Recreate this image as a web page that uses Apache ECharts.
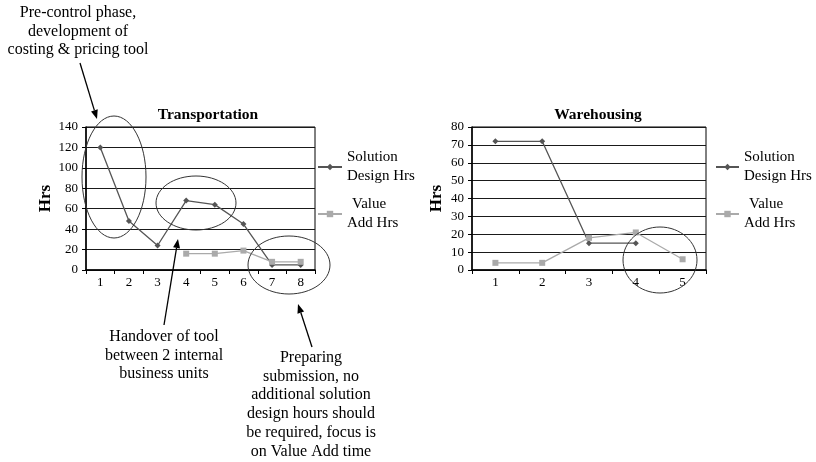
<!DOCTYPE html>
<html><head><meta charset="utf-8">
<script src="https://cdn.jsdelivr.net/npm/echarts@6/dist/echarts.min.js"></script>
<style>html,body{margin:0;padding:0;background:#fff}#c{width:816px;height:462px}</style>
</head><body><div id="c"></div>
<script>
const transCategories = ['1','2','3','4','5','6','7','8'];
const transSolution = [120, 48, 24, 68, 64, 45, 5, 5];
const transValueAdd = [null, null, null, 16, 16, 19, 8, 8];
const transYTicks = {min: 0, max: 140, interval: 20};

const wareCategories = ['1','2','3','4','5'];
const wareSolution = [72, 72, 15, 15, null];
const wareValueAdd = [4, 4, 18, 21, 6];
const wareYTicks = {min: 0, max: 80, interval: 10};

const FONT = '"Liberation Serif", "Times New Roman", serif';
const chart = echarts.init(document.getElementById('c'));

function xAxis(idx, data) {
  return {
    type: 'category', gridIndex: idx, data: data, boundaryGap: true,
    axisLine: {show: true, lineStyle: {color: '#000', width: 1.5}},
    axisTick: {show: true, length: 4, lineStyle: {color: '#000'}},
    axisLabel: {color: '#000', fontFamily: FONT, fontSize: 13, margin: 6},
    splitLine: {show: false}
  };
}
function yAxis(idx, t, gap) {
  return {
    type: 'value', gridIndex: idx, min: t.min, max: t.max, interval: t.interval,
    name: 'Hrs', nameLocation: 'middle', nameRotate: 90, nameGap: gap,
    nameTextStyle: {fontFamily: FONT, fontSize: 17, fontWeight: 'bold', color: '#000'},
    axisLine: {show: true, lineStyle: {color: '#000', width: 1.5}},
    axisTick: {show: true, length: 4, lineStyle: {color: '#000'}},
    axisLabel: {color: '#000', fontFamily: FONT, fontSize: 13, margin: 8},
    splitLine: {show: true, lineStyle: {color: '#1a1a1a', width: 1}}
  };
}
function sd(idx, data) {
  return {name: 'Solution Design Hrs', type: 'line', xAxisIndex: idx, yAxisIndex: idx, data: data,
    symbol: 'diamond', symbolSize: 6, itemStyle: {color: '#555'}, lineStyle: {color: '#555', width: 1.3},
    connectNulls: false, animation: false};
}
function va(idx, data) {
  return {name: 'Value Add Hrs', type: 'line', xAxisIndex: idx, yAxisIndex: idx, data: data,
    symbol: 'rect', symbolSize: 6, itemStyle: {color: '#aaa'}, lineStyle: {color: '#aaa', width: 1.3},
    connectNulls: false, animation: false};
}
function legend(left, w) {
  return {
    orient: 'vertical', left: left, top: 148, padding: 0, itemWidth: w, itemHeight: 8, itemGap: 9,
    data: ['Solution Design Hrs', 'Value Add Hrs'],
    formatter: function (n) {
      return n === 'Solution Design Hrs' ? '{a|Solution}\n{a|Design Hrs}' : '{b|Value}\n{a|Add Hrs}';
    },
    textStyle: {fontFamily: FONT, fontSize: 15, color: '#000', lineHeight: 19,
      rich: {
        a: {fontFamily: FONT, fontSize: 15, color: '#000', lineHeight: 19},
        b: {fontFamily: FONT, fontSize: 15, color: '#000', lineHeight: 19, padding: [0, 0, 0, 5]}
      }},
    selectedMode: false
  };
}

// annotation helpers
function arrow(x1, y1, x2, y2) {
  const ang = Math.atan2(y2 - y1, x2 - x1);
  const L = 9, W = 3.5;
  const bx = x2 - L * Math.cos(ang), by = y2 - L * Math.sin(ang);
  const px = -Math.sin(ang) * W, py = Math.cos(ang) * W;
  return [
    {type: 'line', shape: {x1: x1, y1: y1, x2: bx, y2: by}, style: {stroke: '#000', lineWidth: 1.3}, z: 100},
    {type: 'polygon', shape: {points: [[x2, y2], [bx + px, by + py], [bx - px, by - py]]}, style: {fill: '#000'}, z: 100}
  ];
}
function ell(cx, cy, rx, ry) {
  return {type: 'ellipse', shape: {cx: cx, cy: cy, rx: rx, ry: ry}, style: {fill: null, stroke: '#333', lineWidth: 1}, z: 100};
}
function txt(x, y, s) {
  return {type: 'text', x: x, y: y, z: 100,
    style: {text: s, fill: '#000', font: '16px ' + FONT, align: 'center', verticalAlign: 'top', lineHeight: 18.9}};
}

const graphics = [
  ell(114, 177, 32, 61), ell(196, 203, 40, 27), ell(289, 265, 41, 29), ell(660, 260, 37, 33),
  txt(78, 3, 'Pre-control phase,\ndevelopment of\ncosting & pricing tool'),
  txt(164, 327, 'Handover of tool\nbetween 2 internal\nbusiness units'),
  txt(311, 348, 'Preparing\nsubmission, no\nadditional solution\ndesign hours should\nbe required, focus is\non Value Add time')
].concat(arrow(80, 63, 97, 119), arrow(164, 325, 178, 239), arrow(312, 347, 298, 304));

chart.setOption({
  animation: false,
  title: [
    {text: 'Transportation', left: 203, top: 102, textAlign: 'center',
      textStyle: {fontFamily: FONT, fontSize: 15.5, fontWeight: 'bold', color: '#000'}},
    {text: 'Warehousing', left: 593, top: 102, textAlign: 'center',
      textStyle: {fontFamily: FONT, fontSize: 15.5, fontWeight: 'bold', color: '#000'}}
  ],
  grid: [
    {left: 86, right: 501, top: 127, bottom: 192, show: true, borderColor: '#000', borderWidth: 1, backgroundColor: 'transparent'},
    {left: 472, right: 110, top: 127, bottom: 192, show: true, borderColor: '#000', borderWidth: 1, backgroundColor: 'transparent'}
  ],
  legend: [legend(317, 24), legend(715, 23)],
  xAxis: [xAxis(0, transCategories), xAxis(1, wareCategories)],
  yAxis: [yAxis(0, transYTicks, 21), yAxis(1, wareYTicks, 27)],
  series: [sd(0, transSolution), va(0, transValueAdd), sd(1, wareSolution), va(1, wareValueAdd)],
  graphic: graphics
});
</script></body></html>
